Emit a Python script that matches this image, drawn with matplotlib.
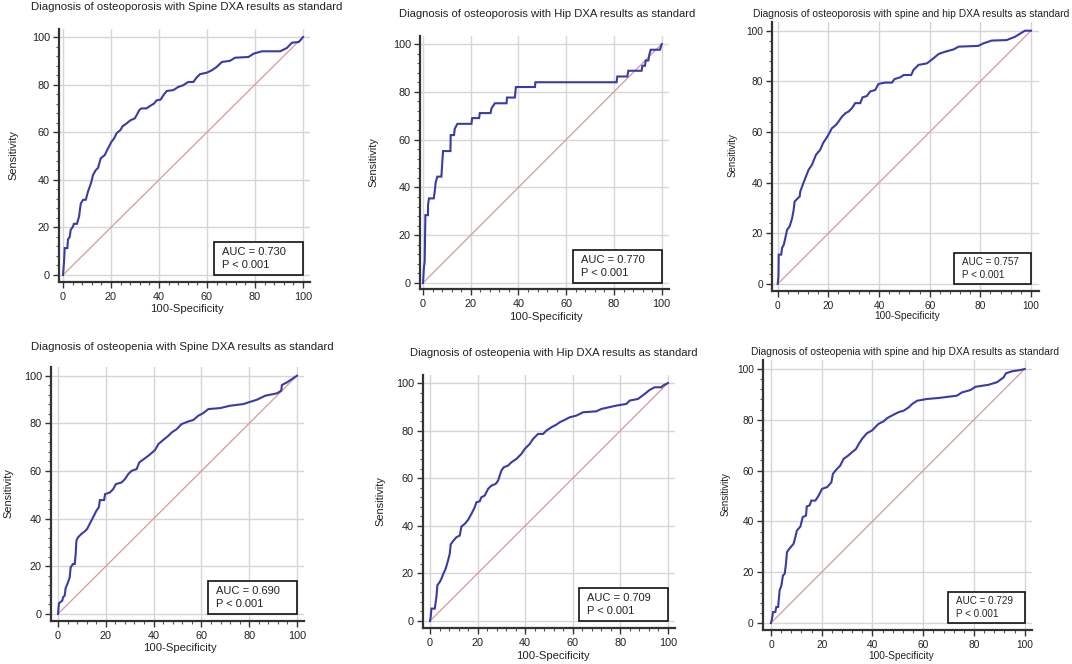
import numpy as np
import matplotlib
matplotlib.use("Agg")
import matplotlib.pyplot as plt
from matplotlib.patches import Rectangle
from matplotlib.ticker import MultipleLocator

plt.rcParams['font.family'] = ['Liberation Sans', 'DejaVu Sans']

W, H = 1072, 664

# ---- data (100-Specificity, Sensitivity) ----
titles = [
    "Diagnosis of osteoporosis with Spine DXA results as standard",
    "Diagnosis of osteoporosis with Hip DXA results as standard",
    "Diagnosis of osteoporosis with spine and hip DXA results as standard",
    "Diagnosis of osteopenia with Spine DXA results as standard",
    "Diagnosis of osteopenia with Hip DXA results as standard",
    "Diagnosis of osteopenia with spine and hip DXA results as standard",
]
auc_values = ["0.730", "0.770", "0.757", "0.690", "0.709", "0.729"]
p_values = ["< 0.001"] * 6

spine_poro_x = [0, 0.4, 0.7, 1.8, 2.1, 2.8, 3.2, 4.2, 4.5, 5.8, 6.7, 7.4, 8.4, 9.5, 10.4,
                11.8, 12.5, 13.6, 14.6, 15.7, 17.4, 18.4, 20.2, 21.3, 22.3, 24, 24.8, 26.5,
                28.1, 29.9, 30.6, 31.8, 32.7, 34.8, 36.2, 37.9, 39, 40.7, 41.8, 43.2, 46, 48,
                50, 52.2, 54.3, 55.7, 57.1, 59.9, 62, 64, 66.2, 69.6, 71.7, 77.3, 79.4, 82.9,
                90.5, 93.3, 95.4, 98.2, 98.9, 100]
spine_poro_y = [0, 5, 11.3, 11.3, 15, 16, 19, 20.4, 21.5, 21.5, 24.6, 30, 31.6, 31.6, 35,
                39, 42, 44, 45, 49, 50.4, 52.5, 56, 57.4, 59.5, 61, 62.5, 63.7,
                65, 65.8, 67, 69.3, 70, 70, 71, 72, 73.4, 73.7, 75.5, 77.3, 77.7, 79,
                79.7, 81.1, 81.1, 83, 84.4, 85, 86, 87.4, 89.5, 90, 91.3, 91.6, 93, 94,
                94, 95.4, 97.6, 97.9, 98.6, 100]

hip_poro_x = [0, 0.4, 0.7, 1, 2.1, 2.1, 2.5, 4.5, 4.9, 5.3, 6, 7.7, 8.1, 8.4, 11.5, 11.6,
              13, 13.3, 14.4, 20.3, 20.6, 23.5, 23.8, 28.3, 28.7, 30.1, 35, 35.2, 38.5,
              38.9, 46.9, 47.1, 81.1, 81.4, 85.6, 86, 91.6, 91.9, 93, 93.3, 94.4, 94.8,
              95.4, 99.3, 100]
hip_poro_y = [0, 6.7, 8.8, 28.4, 28.4, 32.6, 35.4, 35.4, 38.2, 42, 44.5, 44.5, 50.8, 55.2,
              55.2, 61.9, 61.9, 64.5, 66.6, 66.6, 69, 69, 71.1, 71.1, 73.1, 75.2, 75.2,
              77.6, 77.6, 82, 82, 84, 84, 86.4, 86.4, 88.8, 88.8, 90.9, 90.9, 93.1, 93.1,
              95.5, 97.6, 97.6, 100]

both_poro_x = [0, 0.3, 0.4, 1.4, 1.7, 2.4, 3, 3.7, 4.7, 5.7, 6.3, 6.7, 8, 8.7, 8.9, 9.9,
               10.9, 12.2, 13.5, 15.1, 16.8, 17.9, 19.8, 21.4, 23, 24, 25.4, 26.7, 28,
               29.3, 30.6, 32.6, 33.5, 35.2, 36.5, 38.5, 39.8, 42.4, 45.1, 46.1, 48.4,
               49.7, 52.7, 53.6, 55.6, 58.9, 61.5, 63.5, 66.1, 69.4, 71.4, 79.2, 81.2,
               84.5, 90.4, 93.7, 96.3, 97.6, 100]
both_poro_y = [0, 3, 11.6, 11.6, 14.2, 15.5, 18.1, 21.4, 22.7, 26, 29.3, 32.6, 33.9, 34.6,
               36.5, 39.2, 41.8, 45.1, 47, 51, 53, 55.6, 58.5, 61.5, 62.8, 64.1, 66.1,
               67.4, 68.1, 69.4, 71.4, 71.4, 73.7, 74.2, 76, 76.6, 79, 79.5, 79.5, 80.9,
               81.6, 82.5, 82.5, 84.5, 86.5, 87.1, 89.1, 90.8, 91.7, 92.6, 93.7, 94, 95,
               96.1, 96.3, 97.6, 99.2, 100, 100]

spine_penia_x = [0, 0.4, 1.8, 2.1, 2.8, 3.2, 4.2, 4.9, 5.3, 6.3, 7, 7.4, 7.7, 8.4, 9.8,
                 11.2, 12.2, 13.6, 14.7, 16.1, 17.1, 17.5, 19.3, 19.7, 21.7, 23.1, 24.2,
                 26.6, 28, 29.4, 30.8, 32.9, 34, 35.9, 37.8, 40.6, 42, 44, 46.2, 47.6,
                 49.7, 51.7, 54.5, 56.6, 58.7, 60.8, 62.9, 67.8, 72, 77.6, 79.7, 83.2,
                 86.7, 91.6, 93.4, 93.7, 95.8, 97.9, 100]
spine_penia_y = [0, 4.5, 5.6, 7, 7.7, 10.9, 13.3, 15.4, 19.6, 21, 21, 25.2, 30.8, 32.2,
                 33.6, 34.7, 35.7, 38.5, 40.6, 43.4, 44.8, 47.8, 47.8, 50.3, 51, 52.4,
                 54.5, 55.2, 56.6, 58.7, 60.1, 60.8, 63.6, 65, 66.4, 68.8, 71.3, 73, 74.8,
                 76.2, 77.6, 79.7, 80.8, 81.4, 83.2, 84.3, 86, 86.4, 87.4, 88.1, 88.8,
                 89.9, 91.6, 92.6, 93.7, 96.1, 97.2, 98.6, 100]

hip_penia_x = [0, 0.3, 0.6, 2, 2.7, 3.1, 4.1, 4.8, 5.5, 6.6, 7.6, 8.3, 8.7, 9.7, 11.1,
               12.5, 13.2, 14.6, 16, 17.4, 18.8, 19.5, 20.9, 21.6, 23, 24.4, 25.8, 27.6,
               28.6, 30, 31, 32.8, 34.2, 36.3, 38.4, 39.8, 41.9, 43.3, 45.4, 47.5, 48.9,
               51, 53.1, 54.5, 56.6, 58.7, 61.5, 64.3, 69.9, 72, 78.3, 82.5, 83.9, 87.4,
               90.2, 92.3, 94.4, 97.2, 97.9, 100]
hip_penia_y = [0, 1.7, 5.2, 5.2, 10.1, 15, 16.4, 17.8, 19.6, 22, 25.5, 28.3, 32.2, 33.6,
               35.2, 35.9, 39.7, 40.8, 42.5, 45, 47.8, 49.9, 50.3, 52, 52.7, 55.5, 56.9,
               57.6, 59, 63.2, 64.6, 65.3, 66.7, 68.1, 70.2, 72.3, 74.4, 76.5, 78.6, 78.6,
               80, 81.4, 82.5, 83.5, 84.5, 85.6, 86.3, 87.7, 88.1, 89.1, 90.5, 91.2, 92.6,
               93.3, 95.4, 97.1, 98.2, 98.2, 98.9, 100]

both_penia_x = [0, 0.4, 0.8, 1.7, 2.1, 2.8, 3.4, 4.1, 4.7, 5.4, 5.9, 6.3, 7.2, 8.9, 9.6,
                10.2, 11.6, 12.5, 13.8, 14.1, 15.2, 15.9, 17.5, 18.8, 20.1, 22.1, 23.8,
                24.4, 25.4, 27.3, 28.6, 30.4, 31.9, 33.5, 34.6, 35.9, 37.8, 39.8, 41.1,
                42.4, 44.4, 45.7, 47.7, 50.3, 52.3, 54.3, 55.6, 57.6, 61.5, 66.1, 73.3,
                75.3, 78.6, 80.6, 85.8, 89.1, 91.7, 92.6, 95, 98.3, 100]
both_penia_y = [0, 1.7, 4.3, 4.3, 6.3, 6.3, 12.8, 14.8, 18.7, 19.4, 23.3, 27.9, 29.2, 31.2,
                33.8, 36.4, 38, 41.7, 42.3, 45.9, 46.3, 48.2, 48.2, 50.2, 52.8, 53.5, 55.4,
                58.7, 60, 62, 64.6, 65.9, 67.2, 68.5, 70.5, 72.5, 74.7, 75.8, 77.1, 78.4,
                79.4, 80.6, 81.7, 83, 83.6, 84.9, 86.2, 87.5, 88.2, 88.6, 89.5, 90.8, 91.7,
                93, 93.8, 94.8, 96.7, 98.3, 99.1, 99.6, 100]

curves = [(spine_poro_x, spine_poro_y), (hip_poro_x, hip_poro_y), (both_poro_x, both_poro_y),
          (spine_penia_x, spine_penia_y), (hip_penia_x, hip_penia_y), (both_penia_x, both_penia_y)]

# ---- layout in pixels: x of 0/100, y of 0/100, left spine, bottom spine ----
frames = [
    (63, 303, 275, 37, 59, 282),
    (423, 661.7, 283, 44, 420, 289),
    (777.7, 1031, 284, 30.7, 772, 291),
    (58, 297, 614, 375.7, 51, 621),
    (430, 668, 621, 383, 423, 628),
    (771, 1024.7, 623, 369, 762.7, 630),
]
title_pos = [(187, 7, 313), (546.7, 14, 297), (911, 14, 318),
             (182, 347, 303), (554, 353, 289), (905, 352, 310)]
xlab_pos = [(187, 309), (545.7, 316.7), (907.5, 316), (180.3, 648), (553.3, 655.7), (900.8, 655.7)]
ylab_pos = [(13.3, 155), (373, 161.7), (732.7, 155), (8.3, 493), (380, 500.7), (726, 494)]
box_px = [(89, 33), (89, 33), (77, 31), (89, 33), (89, 33), (77, 31)]
big = [True, True, False, True, True, False]

CURVE = '#3b3ba6'
DIAG = '#d49a9a'
GRID = '#d6d6d6'
SPINE = '#333333'
TXT = '#222222'

fig = plt.figure(figsize=(W / 100, H / 100), dpi=100)
fig.patch.set_facecolor('white')
renderer = fig.canvas.get_renderer()


def fx(x):
    return x / W


def fy(y):
    return 1 - y / H


for i in range(6):
    x0, x100, y0, y100, lsp, bsp = frames[i]
    sx = (x100 - x0) / 100.0
    sy = (y0 - y100) / 100.0
    xlo = (lsp - x0) / sx
    ylo = (y0 - bsp) / sy
    xhi, yhi = 103, 103.5
    left = x0 + xlo * sx
    right = x0 + xhi * sx
    top = y0 - yhi * sy
    bottom = y0 - ylo * sy
    ax = fig.add_axes([fx(left), fy(bottom), (right - left) / W, (bottom - top) / H])
    ax.set_xlim(xlo, xhi)
    ax.set_ylim(ylo, yhi)

    for v in [0, 20, 40, 60, 80, 100]:
        ax.axvline(v, color=GRID, lw=1.0, zorder=0)
        ax.axhline(v, color=GRID, lw=1.0, zorder=0)

    ax.plot([0, 100], [0, 100], color=DIAG, lw=0.9, zorder=1)
    cx, cy = curves[i]
    ax.plot(cx, cy, color=CURVE, lw=1.5, zorder=2, solid_joinstyle='miter')

    for s in ['top', 'right']:
        ax.spines[s].set_visible(False)
    for s in ['left', 'bottom']:
        ax.spines[s].set_color(SPINE)
        ax.spines[s].set_linewidth(1.6)

    fs_tick = 7.8 if big[i] else 7.3
    ax.set_xticks([0, 20, 40, 60, 80, 100])
    ax.set_yticks([0, 20, 40, 60, 80, 100])
    ax.xaxis.set_minor_locator(MultipleLocator(4))
    ax.yaxis.set_minor_locator(MultipleLocator(4))
    ax.tick_params(which='major', length=4.5, width=1, color=SPINE, labelsize=fs_tick,
                   labelcolor=TXT, direction='out')
    ax.tick_params(axis='x', which='major', pad=3)
    ax.tick_params(axis='y', which='major', pad=2)
    ax.tick_params(which='minor', length=2.5, width=0.8, color='#555555', direction='out')

    # AUC box
    bw, bh = box_px[i]
    bwd, bhd = bw / sx, bh / sy
    ax.add_patch(Rectangle((100 - bwd, 0), bwd, bhd, facecolor='white', edgecolor='#111111',
                           lw=1.2, zorder=4))
    fs_box = 8 if big[i] else 7.1
    ax.text(100 - bwd + 8 / sx, bhd * 0.70, "AUC = " + auc_values[i], fontsize=fs_box,
            color=TXT, va='center', ha='left', zorder=5)
    ax.text(100 - bwd + 8 / sx, bhd * 0.30, "P " + p_values[i], fontsize=fs_box,
            color=TXT, va='center', ha='left', zorder=5)

    # title fitted to the width seen in the reference
    tcx, tcy, tw = title_pos[i]
    t = fig.text(fx(tcx), fy(tcy), titles[i], ha='center', va='center', fontsize=8, color=TXT)
    w_now = t.get_window_extent(renderer).width
    t.set_fontsize(8 * tw / w_now)

    lx, ly = xlab_pos[i]
    fig.text(fx(lx), fy(ly), "100-Specificity", ha='center', va='center',
             fontsize=8.1 if big[i] else 7.3, color=TXT)
    yx, yy = ylab_pos[i]
    fig.text(fx(yx), fy(yy), "Sensitivity", ha='center', va='center', rotation=90,
             fontsize=7.9 if big[i] else 7, color=TXT)

fig.savefig("out.png", dpi=100)
